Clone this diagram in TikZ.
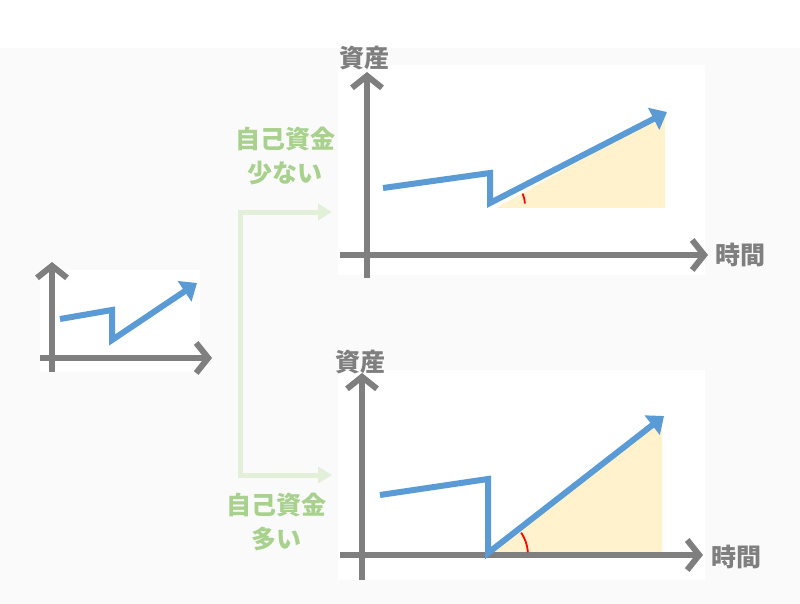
\documentclass[tikz,border=0pt]{standalone}
\usepackage{fontspec}
\newfontfamily\cjk{Noto Sans CJK JP}
\usetikzlibrary{arrows.meta}
\definecolor{ax}{HTML}{7F7F7F}
\definecolor{bl}{HTML}{5B9BD5}
\definecolor{yl}{HTML}{FFF2CC}
\definecolor{gt}{HTML}{A9D18E}
\definecolor{ga}{HTML}{E2F0D9}
\definecolor{bg}{HTML}{FAFAFA}
\begin{document}
\begin{tikzpicture}[x=1pt,y=-1pt,
 axis/.style={draw=ax,line width=6pt,-{Straight Barb[length=12pt,width=30pt,line width=6pt]}},
 blu/.style={draw=bl,line width=6pt,line join=miter},
 blua/.style={blu,-{Triangle[length=15pt,width=24pt]}},
 lab/.style={font=\cjk\bfseries\fontsize{25}{28}\selectfont,text=ax},
 glab/.style={font=\cjk\bfseries\fontsize{25}{34}\selectfont,text=gt,align=center},
 gar/.style={draw=ga,line width=5pt,-{Triangle[length=14pt,width=16pt]}}]
\useasboundingbox (0,0) rectangle (800,604);
\fill[white] (0,0) rectangle (800,48);
\fill[bg] (0,48) rectangle (800,604);
\fill[white] (40,270) rectangle (200,372);
\fill[white] (338,65) rectangle (705,275);
\fill[white] (338,370) rectangle (705,580);
% small chart
\coordinate (s0) at (52,372); \coordinate (s1) at (52,262);
\coordinate (s2) at (40,358); \coordinate (s3) at (212,358);
\draw[axis] (s0)--(s1); \draw[axis] (s2)--(s3);
\coordinate (b0) at (60,319); \coordinate (b1) at (112,310); \coordinate (b2) at (112,340); \coordinate (b3) at (197,283);
\draw[blua] (b0)--(b1)--(b2)--(b3);
% green arrows
\coordinate (g0) at (240,212); \coordinate (g1) at (240,475);
\coordinate (g2) at (332,212); \coordinate (g3) at (332,475);
\draw[gar] (g1)--(g0)--(g2); \draw[gar] (g0)--(g1)--(g3);
\node[glab] (t1) at (285,156) {自己資金\\少ない};
\node[glab] (t2) at (276,522) {自己資金\\多い};
% top chart
\fill[yl] (496,208)--(665,208)--(665,113)--cycle;
\coordinate (a0) at (367,278); \coordinate (a1) at (367,72);
\coordinate (a2) at (340,255); \coordinate (a3) at (708,255);
\draw[axis] (a0)--(a1); \draw[axis] (a2)--(a3);
\coordinate (c0) at (383,188); \coordinate (c1) at (490,173); \coordinate (c2) at (490,203); \coordinate (c3) at (667,112);
\draw[blua] (c0)--(c1)--(c2)--(c3);
\draw[red,line width=1.8pt] (497,205) ++(-3:28) arc[start angle=-3,end angle=-24,radius=28];
\node[lab] (l1) at (364,58) {資産};
\node[lab] (l2) at (740,255) {時間};
% bottom chart
\fill[yl] (488,555)--(662,555)--(662,418)--cycle;
\coordinate (d0) at (362,580); \coordinate (d1) at (362,373);
\coordinate (d2) at (340,555); \coordinate (d3) at (703,555);
\draw[axis] (d0)--(d1); \draw[axis] (d2)--(d3);
\coordinate (e0) at (380,495); \coordinate (e1) at (488,479); \coordinate (e2) at (488,553); \coordinate (e3) at (664,416);
\draw[blua] (e0)--(e1)--(e2)--(e3);
\draw[red,line width=1.8pt] (488,555) ++(-4:40) arc[start angle=-4,end angle=-34,radius=40];
\node[lab] (l3) at (360,362) {資産};
\node[lab] (l4) at (736,557) {時間};
\end{tikzpicture}
\end{document}
